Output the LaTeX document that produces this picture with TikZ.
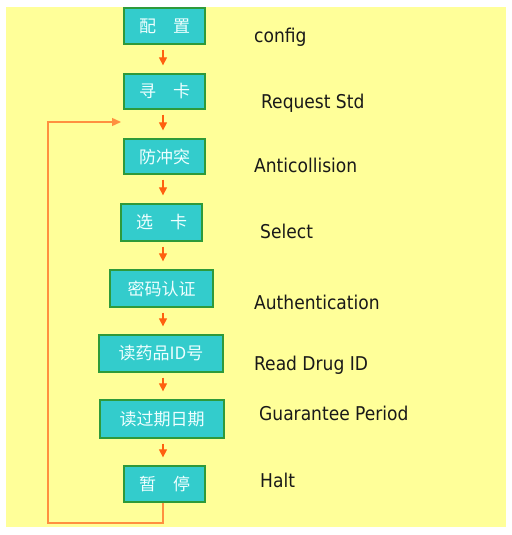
\documentclass[tikz,border=0pt]{standalone}
\usepackage{fontspec}
\usetikzlibrary{arrows.meta}
\IfFontExistsTF{DejaVu Sans Condensed}{\setmainfont{DejaVu Sans Condensed}\newcommand\lblsize{\fontsize{19pt}{22pt}\selectfont}}{\setmainfont{DejaVu Sans}\newcommand\lblsize{\fontsize{17.4pt}{21pt}\selectfont}}
\newfontfamily\cjk{Noto Sans CJK SC}
\definecolor{bgyellow}{HTML}{FFFF99}
\definecolor{boxfill}{HTML}{33CCCC}
\definecolor{boxline}{HTML}{2E9A3A}
\definecolor{arrorange}{HTML}{FF6010}
\definecolor{looporange}{HTML}{FF9040}
\definecolor{cjktext}{HTML}{EFFFFF}
\begin{document}
\begin{tikzpicture}[x=1pt,y=-1pt,
  stepbox/.style={draw=boxline,line width=1.3pt,fill=boxfill,inner sep=0pt,
    text=cjktext,font=\cjk\fontsize{17pt}{19pt}\selectfont},
  lbl/.style={anchor=base west,inner sep=0pt,font=\lblsize,text=black!90},
  arr/.style={draw=arrorange,line width=1.2pt,-{Triangle[length=8pt,width=8pt]},shorten <=5pt,shorten >=8pt},
  loopline/.style={draw=looporange,line width=1.4pt,-{Triangle[length=9pt,width=8pt]}}]
\useasboundingbox (0,0) rectangle (511,535);
\fill[white] (0,0) rectangle (511,535);
\fill[bgyellow] (6,7) rectangle (506,527);
\coordinate (col) at (163,0);
\node[stepbox,minimum width=81pt,minimum height=36pt] (b1) at (164.5,26) {配\hspace{1em}置};
\node[stepbox,minimum width=81pt,minimum height=35pt] (b2) at (164.5,91.5) {寻\hspace{1em}卡};
\node[stepbox,minimum width=81pt,minimum height=35pt] (b3) at (164.5,156.5) {防冲突};
\node[stepbox,minimum width=81pt,minimum height=37pt] (b4) at (161.5,222.5) {选\hspace{1em}卡};
\node[stepbox,minimum width=103pt,minimum height=37pt] (b5) at (161.5,288.5) {密码认证};
\node[stepbox,minimum width=124pt,minimum height=37pt] (b6) at (161,353.5) {读药品ID号};
\node[stepbox,minimum width=124pt,minimum height=38pt] (b7) at (162,419) {读过期日期};
\node[stepbox,minimum width=81pt,minimum height=36pt] (b8) at (164.5,484) {暂\hspace{1em}停};
\foreach \a/\b in {b1/b2,b2/b3,b3/b4,b4/b5,b5/b6,b6/b7,b7/b8}
  \draw[arr] (\a.south -| col) -- (\b.north -| col);
\coordinate (bl) at (48,523);
\coordinate (lt) at (121,122);
\draw[loopline] (b8.south -| col) |- (bl) |- (lt);
\node[lbl] (l1) at (254,42) {config};
\node[lbl] (l2) at (261,108) {Request Std};
\node[lbl] (l3) at (254,172) {Anticollision};
\node[lbl] (l4) at (260,238) {Select};
\node[lbl] (l5) at (254,309) {Authentication};
\node[lbl] (l6) at (254,370) {Read Drug ID};
\node[lbl] (l7) at (259,420) {Guarantee Period};
\node[lbl] (l8) at (260,487) {Halt};
\end{tikzpicture}
\end{document}
